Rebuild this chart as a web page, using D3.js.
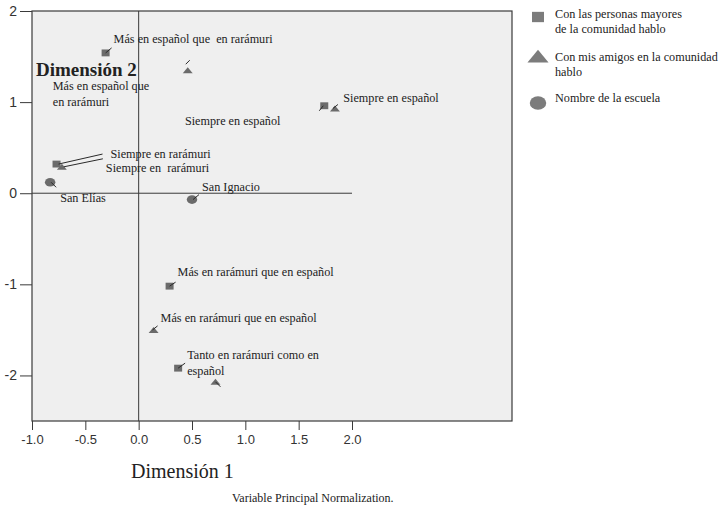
<!DOCTYPE html>
<html>
<head>
<meta charset="utf-8">
<script src="https://cdn.jsdelivr.net/npm/d3@7"></script>
<style>
  html, body { margin: 0; padding: 0; background: #fff; }
  svg { display: block; }
</style>
</head>
<body>
<svg id="chart" width="720" height="505"></svg>
<script>
// ---- data ----
const seriesNames = ["Con las personas mayores de la comunidad hablo", "Con mis amigos en la comunidad hablo", "Nombre de la escuela"];
const mayoresLabels = ["Más en español que  en rarámuri", "Siempre en español", "Siempre en rarámuri", "Más en rarámuri que en español", "Tanto en rarámuri como en|español"];
const mayoresX = [-0.31, 1.74, -0.77, 0.29, 0.37];
const mayoresY = [1.54, 0.96, 0.32, -1.02, -1.92];
const amigosLabels = ["Más en español que|en rarámuri", "Siempre en español", "Siempre en  rarámuri", "Más en rarámuri que en español", ""];
const amigosX = [0.46, 1.84, -0.72, 0.14, 0.72];
const amigosY = [1.35, 0.93, 0.29, -1.50, -2.07];
const escuelaLabels = ["San Elías", "San Ignacio"];
const escuelaX = [-0.83, 0.50];
const escuelaY = [0.12, -0.07];
const xTicks = [-1.0, -0.5, 0.0, 0.5, 1.0, 1.5, 2.0];
const yTicks = [2, 1, 0, -1, -2];
const legendLines = [["Con las personas mayores", "de la comunidad hablo"], ["Con mis amigos en la comunidad", "hablo"], ["Nombre de la escuela"]];

// ---- layout (pixel offsets of labels and leader lines relative to each point) ----
// [label dx, label dy (first line center), leader x1, y1, x2, y2]
const mayoresLayout = [[8, -14, 0, 0, 6, -5], [19, -8, -1, 0, -5, 5], [54, -10, 2, 0, 46, -10], [8, -14, 0, 0, 6, -4], [9, -13, 0, 0, 7, -5]];
const amigosLayout = [[-135, 16, -2, -6, 2, -10], [-150, 12, -2, 0, 3, -4], [44, 1, 2, 0, 41, -8], [7, -12, -1, 0, 4, -4], [0, 0, 0, 0, 5, 5]];
const escuelaLayout = [[10, 15, 1, 0, 6, 5], [10, -13, 1, 0, 7, -5]];

const svg = d3.select("#chart");
const pLeft = 32, pRight = 512, pTop = 11, pBottom = 421;
const x = d3.scaleLinear().domain([-1, 3.5]).range([pLeft, pRight]);
const y = d3.scaleLinear().domain([-2.5, 2]).range([pBottom, pTop]);

const serif = "'Liberation Serif', 'Times New Roman', serif";
const sans = "'Liberation Sans', Arial, sans-serif";
const axisColor = "#3a3a3a";
const markColor = "#6b6b6b";
const legendColor = "#7c7c7c";
const hyphen = s => s.replace("\u2212", "-");

// plot background
svg.append("rect").attr("x", pLeft).attr("y", pTop).attr("width", pRight - pLeft).attr("height", pBottom - pTop)
  .attr("fill", "#efefef").attr("stroke", axisColor).attr("stroke-width", 1.2);

// reference lines
svg.append("line").attr("x1", x(0)).attr("x2", x(0)).attr("y1", pTop).attr("y2", pBottom)
  .attr("stroke", axisColor).attr("stroke-width", 1);
svg.append("line").attr("x1", x(-1)).attr("x2", x(2)).attr("y1", y(0)).attr("y2", y(0))
  .attr("stroke", axisColor).attr("stroke-width", 1);

// axes
const xAxis = d3.axisBottom(x).tickValues(xTicks).tickSize(9).tickPadding(5)
  .tickFormat(d => hyphen(d3.format(".1f")(d)));
const gx = svg.append("g").attr("transform", `translate(0,${pBottom})`).call(xAxis);
gx.select(".domain").remove();
gx.selectAll("line").attr("stroke", axisColor);
gx.selectAll("text").attr("font-family", sans).attr("font-size", 13).attr("fill", "#333");

const yAxis = d3.axisLeft(y).tickValues(yTicks).tickSize(12).tickPadding(3)
  .tickFormat(d => hyphen(d3.format("d")(d)));
const gy = svg.append("g").attr("transform", `translate(${pLeft},0)`).call(yAxis);
gy.select(".domain").remove();
gy.selectAll("line").attr("stroke", axisColor);
gy.selectAll("text").attr("font-family", sans).attr("font-size", 14).attr("fill", "#333");

// axis titles
svg.append("text").attr("x", 36).attr("y", 76).text("Dimensión 2")
  .attr("font-family", serif).attr("font-weight", "bold").attr("font-size", 19).attr("fill", "#222");
svg.append("text").attr("x", 131).attr("y", 478).text("Dimensión 1")
  .attr("font-family", serif).attr("font-size", 20).attr("fill", "#222");
svg.append("text").attr("x", 232).attr("y", 502).text("Variable Principal Normalization.")
  .attr("font-family", serif).attr("font-size", 12).attr("fill", "#222");

// data records
const recs = [];
mayoresLabels.forEach((l, i) => recs.push({ s: 0, label: l, vx: mayoresX[i], vy: mayoresY[i], lay: mayoresLayout[i] }));
amigosLabels.forEach((l, i) => recs.push({ s: 1, label: l, vx: amigosX[i], vy: amigosY[i], lay: amigosLayout[i] }));
escuelaLabels.forEach((l, i) => recs.push({ s: 2, label: l, vx: escuelaX[i], vy: escuelaY[i], lay: escuelaLayout[i] }));

function drawMarker(g, s, size, color) {
  if (s === 0) {
    g.append("rect").attr("x", -size * 0.5).attr("y", -size * 0.43).attr("width", size).attr("height", size * 0.86).attr("fill", color);
  } else if (s === 1) {
    const w = size * 0.62, h = size * 0.75;
    g.append("path").attr("d", `M${-w},${h * 0.5}L${w},${h * 0.5}L0,${-h * 0.5}Z`).attr("fill", color);
  } else {
    g.append("ellipse").attr("rx", size * 0.55).attr("ry", size * 0.45).attr("fill", color);
  }
}

const pts = svg.append("g");
recs.forEach(r => {
  const g = pts.append("g").attr("transform", `translate(${x(r.vx)},${y(r.vy)})`);
  drawMarker(g, r.s, r.s === 2 ? 9.5 : 8, markColor);
  const L = r.lay;
  g.append("line").attr("x1", L[2]).attr("y1", L[3]).attr("x2", L[4]).attr("y2", L[5])
    .attr("stroke", "#2a2a2a").attr("stroke-width", 1);
  if (r.label) {
    const lines = r.label.split("|");
    lines.forEach((ln, k) => {
      g.append("text").attr("x", L[0]).attr("y", L[1] + k * 15.5).attr("dy", "0.35em")
        .attr("font-family", serif).attr("font-size", 12.2).attr("fill", "#222")
        .style("white-space", "pre").text(ln);
    });
  }
});

// legend
const legend = svg.append("g");
const legendPos = [[538, 17, 14], [538, 56, 57], [538, 103, 98]];
legendLines.forEach((lines, i) => {
  const p = legendPos[i];
  const g = legend.append("g").attr("transform", `translate(${p[0]},${p[1]})`);
  drawMarker(g, i, i === 0 ? 12 : (i === 1 ? 17 : 15), legendColor);
  lines.forEach((ln, k) => {
    legend.append("text").attr("x", 555).attr("y", p[2] + k * 15).attr("dy", "0.35em")
      .attr("font-family", serif).attr("font-size", 12.2).attr("fill", "#222").text(ln);
  });
});
</script>
</body>
</html>
